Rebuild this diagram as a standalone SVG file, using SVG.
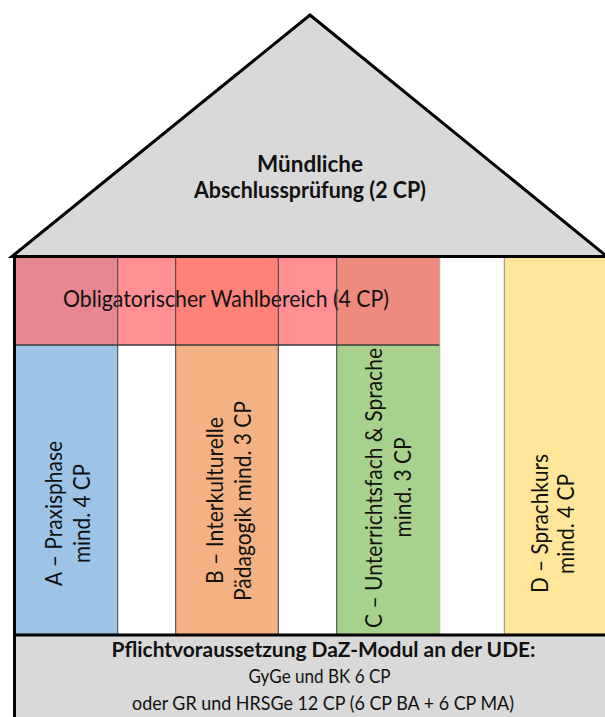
<svg xmlns="http://www.w3.org/2000/svg" width="605" height="717" viewBox="0 0 605 717">
<style>
text{font-family:Lato,"Liberation Sans",sans-serif;fill:#111;}
.b{font-weight:bold;}
.col{font-size:22.5px;text-anchor:middle;}
.sep{stroke:#3a3a3a;stroke-width:1;}
.wall{stroke:#000;stroke-width:3;fill:none;}
</style>
<rect width="605" height="717" fill="#fff"/>
<g id="colA"><rect x="15" y="257" width="103" height="378" fill="#9DC3E6"/></g>
<g id="colB"><rect x="176" y="257" width="102.5" height="378" fill="#F4B183"/></g>
<g id="colC"><rect x="337" y="257" width="103" height="378" fill="#A9D18E"/></g>
<g id="colD"><rect x="504.5" y="257" width="101" height="378" fill="#FFE699"/></g>
<g id="band">
<rect x="15" y="257" width="103" height="88" fill="#E8878F"/>
<rect x="118" y="257" width="58" height="88" fill="#FF8F93"/>
<rect x="176" y="257" width="102.5" height="88" fill="#FF8279"/>
<rect x="278.5" y="257" width="58.5" height="88" fill="#FF8F93"/>
<rect x="337" y="257" width="103" height="88" fill="#EE8A7E"/>
<line x1="15" y1="345" x2="440" y2="345" stroke="#3a3a3a" stroke-width="1.5"/>
<text x="226" y="307" font-size="22.7" text-anchor="middle" textLength="326" lengthAdjust="spacingAndGlyphs">Obligatorischer Wahlbereich (4 CP)</text>
</g>
<g id="separators">
<line class="sep" x1="117.7" y1="257" x2="117.7" y2="635" stroke-opacity="0.9"/>
<line class="sep" x1="175.7" y1="257" x2="175.7" y2="635"/>
<line class="sep" x1="278.3" y1="257" x2="278.3" y2="635"/>
<line class="sep" x1="336.7" y1="257" x2="336.7" y2="635"/>
<line x1="439.8" y1="257" x2="439.8" y2="635" stroke="#b8b8b8" stroke-width="1"/>
<line x1="504.3" y1="257" x2="504.3" y2="635" stroke="#8a8a8a" stroke-width="1"/>
</g>
<g id="labels">
<text class="col" transform="translate(62,513.5) rotate(-90)" textLength="145" lengthAdjust="spacingAndGlyphs">A – Praxisphase</text>
<text class="col" transform="translate(90,513.5) rotate(-90)" textLength="99" lengthAdjust="spacingAndGlyphs">mind. 4 CP</text>
<text class="col" transform="translate(222.7,500.5) rotate(-90)" textLength="167" lengthAdjust="spacingAndGlyphs">B – Interkulturelle</text>
<text class="col" transform="translate(251,501) rotate(-90)" textLength="200" lengthAdjust="spacingAndGlyphs">Pädagogik mind. 3 CP</text>
<text class="col" transform="translate(382,488) rotate(-90)" textLength="280" lengthAdjust="spacingAndGlyphs">C – Unterrichtsfach &amp; Sprache</text>
<text class="col" transform="translate(411,487.5) rotate(-90)" textLength="100" lengthAdjust="spacingAndGlyphs">mind. 3 CP</text>
<text class="col" transform="translate(547.7,523.5) rotate(-90)" textLength="139" lengthAdjust="spacingAndGlyphs">D – Sprachkurs</text>
<text class="col" transform="translate(574,524) rotate(-90)" textLength="100" lengthAdjust="spacingAndGlyphs">mind. 4 CP</text>
</g>
<g id="roof">
<polygon points="12,256.5 310,15 607,256.5" fill="#D9D9D9" stroke="#000" stroke-width="3" stroke-linejoin="miter"/>
<text class="b" x="310" y="171.7" font-size="23" text-anchor="middle" textLength="106" lengthAdjust="spacingAndGlyphs">Mündliche</text>
<text class="b" x="310" y="198.3" font-size="23" text-anchor="middle" textLength="232" lengthAdjust="spacingAndGlyphs">Abschlussprüfung (2 CP)</text>
</g>
<g id="base">
<rect x="14.5" y="635" width="595" height="90" fill="#D9D9D9" stroke="#000" stroke-width="3"/>
<text class="b" x="323.5" y="657" font-size="20.5" text-anchor="middle" textLength="424" lengthAdjust="spacingAndGlyphs">Pflichtvoraussetzung DaZ-Modul an der UDE:</text>
<text x="319.5" y="683" font-size="20" text-anchor="middle" textLength="142" lengthAdjust="spacingAndGlyphs">GyGe und BK 6 CP</text>
<text x="323" y="710" font-size="20" text-anchor="middle" textLength="382" lengthAdjust="spacingAndGlyphs">oder GR und HRSGe 12 CP (6 CP BA + 6 CP MA)</text>
</g>
<g id="wall"><line class="wall" x1="14.5" y1="255" x2="14.5" y2="717"/></g>
</svg>
